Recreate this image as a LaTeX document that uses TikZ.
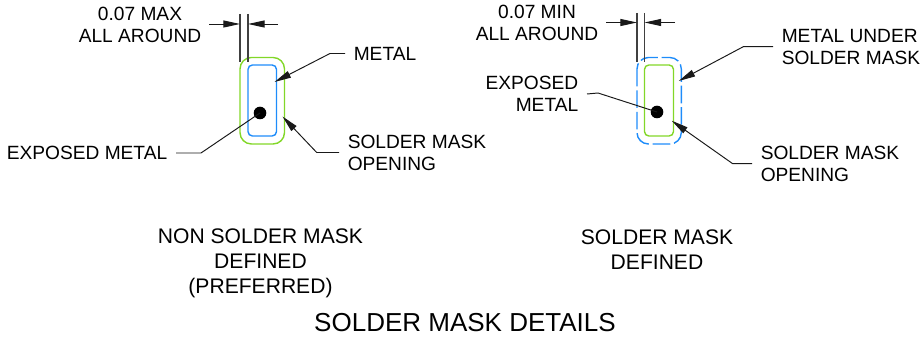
\documentclass[tikz,border=0pt]{standalone}
\usepackage{fontspec}
\setmainfont{Liberation Sans}
\usetikzlibrary{arrows.meta}
\definecolor{maskgreen}{RGB}{130,215,40}
\definecolor{metalblue}{RGB}{30,140,250}
\tikzset{
  lbl/.style={inner sep=0pt,outer xsep=5pt,font=\fontsize{10.9}{12.5}\selectfont},
  caption/.style={inner sep=0pt,align=center,font=\fontsize{12}{14.2}\selectfont},
  wire/.style={line width=0.55pt,black!90},
  leader/.style={wire,-{Stealth[inset=0pt,length=9.5pt,width=4pt]}},
  extline/.style={black!75,line width=0.65pt},
  outline/.style={line width=0.8pt},
}
\begin{document}
\begin{tikzpicture}[x=0.02cm,y=-0.02cm]
\useasboundingbox (0,0) rectangle (920,337);
% non solder mask defined
\draw[outline,maskgreen,rounded corners=6.5pt] (240,57.5) rectangle (284.5,144);
\draw[outline,metalblue,rounded corners=2.5pt] (248,65) rectangle (276.5,136);
\fill (260,113) circle (6.3) coordinate (dotA);
\coordinate (extAa) at (240,14);
\coordinate (extAb) at (248,14);
\draw[extline] (extAa) -- (240,62);
\draw[extline] (extAb) -- (248,62);
\node[lbl,align=center,outer xsep=0pt] (maxA) at (140,24.5) {0.07 MAX\\ALL AROUND};
\coordinate (dimAa) at (209,24);
\coordinate (dimAb) at (278,24);
\draw[leader] (dimAa) -- (240,24);
\draw[leader] (dimAb) -- (248,24);
\node[lbl,anchor=west] (metalA) at (345,53.5) {METAL};
\node[lbl,anchor=west,align=left] (openA) at (339,152.5) {SOLDER MASK\\OPENING};
\node[lbl,anchor=east] (expA) at (176,153) {EXPOSED METAL};
\coordinate (kneeAa) at (330,53.5);
\coordinate (kneeAb) at (316.7,152.5);
\coordinate (kneeAc) at (201,153);
\coordinate (tipAa) at (274.5,82);
\coordinate (tipAb) at (282.5,116.5);
\draw[leader] (metalA.west) -- (kneeAa) -- (tipAa);
\draw[leader] (openA.west) -- (kneeAb) -- (tipAb);
\draw[wire] (expA.east) -- (kneeAc) -- (dotA);
% solder mask defined
\draw[outline,metalblue,rounded corners=6.5pt,dash pattern=on 10pt off 2.2pt] (637,57.5) rectangle (681.3,144);
\draw[outline,maskgreen,rounded corners=2.5pt] (644.5,65) rectangle (673.5,136);
\fill (657,112) circle (6.3) coordinate (dotB);
\coordinate (extBa) at (637,13);
\coordinate (extBb) at (644.5,13);
\draw[extline] (extBa) -- (637,62);
\draw[extline] (extBb) -- (644.5,62);
\node[lbl,align=center,outer xsep=0pt] (minB) at (537,22.5) {0.07 MIN\\ALL AROUND};
\coordinate (dimBa) at (606,22.5);
\coordinate (dimBb) at (675,22.5);
\draw[leader] (dimBa) -- (637,22.5);
\draw[leader] (dimBb) -- (644.5,22.5);
\node[lbl,anchor=west,align=left] (metalB) at (773,46.7) {METAL UNDER\\SOLDER MASK};
\node[lbl,anchor=west,align=left] (openB) at (752,163.7) {SOLDER MASK\\OPENING};
\node[lbl,anchor=east,align=right] (expB) at (587,94) {EXPOSED\\METAL};
\coordinate (kneeBa) at (743.3,46.7);
\coordinate (kneeBb) at (732.7,163.7);
\coordinate (kneeBc) at (598,93);
\coordinate (tipBa) at (678.7,81);
\coordinate (tipBb) at (671.7,120.7);
\draw[leader] (metalB.west) -- (kneeBa) -- (tipBa);
\draw[leader] (openB.west) -- (kneeBb) -- (tipBb);
\draw[wire] (expB.east) -- (kneeBc) -- (dotB);
% captions
\node[caption] (capA) at (260.5,263) {NON SOLDER MASK\\DEFINED\\(PREFERRED)};
\node[caption] (capB) at (657,249.5) {SOLDER MASK\\DEFINED};
\node[inner sep=0pt,font=\fontsize{14.8}{16}\selectfont] (title) at (465,323) {SOLDER MASK DETAILS};
\end{tikzpicture}
\end{document}
